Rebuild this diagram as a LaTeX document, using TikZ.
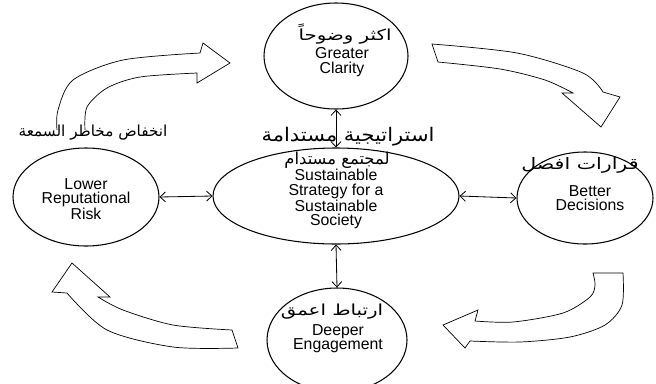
\documentclass[tikz,border=0pt]{standalone}
\usepackage{fontspec}
\setmainfont{Liberation Sans}
\newfontfamily\arabicfont[Script=Arabic]{DejaVu Sans}
\newfontfamily\arabicmid[Script=Arabic,FakeStretch=1.12]{DejaVu Sans}
\newfontfamily\arabicwide[Script=Arabic,FakeStretch=1.3]{DejaVu Sans}
\usetikzlibrary{arrows.meta,shapes.geometric}
\TeXXeTstate=1

\begin{document}
\begin{tikzpicture}[x=0.3mm,y=-0.3mm,
    bulle/.style={draw,ellipse,line width=0.9pt,inner sep=0pt},
    lien/.style={{Straight Barb[length=1.6mm,width=3mm]}-{Straight Barb[length=1.6mm,width=3mm]},line width=0.7pt},
    bloc/.style={line width=0.6pt,line join=miter},
    ar/.style={inner sep=0pt,font=\arabicfont\fontsize{13}{15}\selectfont},
    arw/.style={inner sep=0pt,font=\arabicwide\fontsize{13}{15}\selectfont},
    en/.style={align=center,inner sep=0pt,font=\fontsize{13.5}{12.2}\selectfont}]
    \useasboundingbox (0,0) rectangle (656,383);

    % Les cinq bulles
    \node[bulle,minimum width=43.2mm,minimum height=31.8mm] (clarity) at (336,56) {};
    \node[bulle,minimum width=73.8mm,minimum height=28.8mm] (strategy) at (336,196) {};
    \node[bulle,minimum width=43.8mm,minimum height=29.4mm] (risk) at (86,197) {};
    \node[bulle,minimum width=40.8mm,minimum height=27.6mm] (decisions) at (585,198) {};
    \node[bulle,minimum width=42mm,minimum height=31.2mm] (engagement) at (337,340) {};

    % Textes
    \node[arw] (clarityAr) at (345,34) {\beginR اكثر وضوحاً\endR};
    \node[en] (clarityEn) at (342,62) {Greater\\Clarity};
    \node[ar,font=\arabicmid\fontsize{16}{18}\selectfont] (strategyAr) at (348,137) {\beginR استراتيجية مستدامة\endR};
    \node[ar,font=\arabicfont\fontsize{14}{16}\selectfont] (strategyAr2) at (337,160) {\beginR لمجتمع مستدام\endR};
    \node[en] (strategyEn) at (336,199) {Sustainable\\Strategy for a\\Sustainable\\Society};
    \node[ar] (riskAr) at (93,133) {\beginR انخفاض مخاطر السمعة\endR};
    \node[en] (riskEn) at (86,199) {Lower\\Reputational\\Risk};
    \node[arw,font=\arabicwide\fontsize{13.5}{16}\selectfont] (decisionsAr) at (580,165) {\beginR قرارات افضل\endR};
    \node[en] (decisionsEn) at (590,198) {Better\\Decisions};
    \node[arw] (engagementAr) at (332,312) {\beginR ارتباط اعمق\endR};
    \node[en] (engagementEn) at (338,339) {Deeper\\Engagement};

    % Liens avec le centre
    \draw[lien] (strategy.north) -- (clarity.south);
    \draw[lien] (strategy.south) -- (engagement.north);
    \draw[lien] (risk.east) -- (strategy.west);
    \draw[lien] (strategy.east) -- (decisions.west);

    % Flèche en haut à gauche
    \draw[bloc] plot[smooth] coordinates {(57,130) (58,110) (73,80) (123,60) (200,53)}
        -- (203,43) -- (230,63) -- (197,83) -- (197,73)
        -- plot[smooth] coordinates {(197,73) (140,77) (107,88) (87,107) (85,130)};

    % Flèche en haut à droite
    \draw[bloc] plot[smooth] coordinates {(432,44) (517,53) (583,73) (603,92)}
        -- (620,97) -- (601,127) -- (562,93) -- (573,93)
        -- plot[smooth] coordinates {(573,93) (545,80) (500,69) (438,62)} -- cycle;

    % Flèche en bas à droite
    \draw[bloc] plot[smooth] coordinates {(623,273) (622,305) (605,325) (570,337) (520,342) (470,341)}
        -- (465,348) -- (443,325) -- (478,310) -- (475,321)
        -- plot[smooth] coordinates {(475,321) (513,322) (563,313) (590,297) (595,285) (593,273)} -- cycle;

    % Flèche en bas à gauche
    \draw[bloc] plot[smooth] coordinates {(238,348) (173,347) (107,330) (67,293)}
        -- (52,292) -- (72,263) -- (110,297) -- (98,297)
        -- plot[smooth] coordinates {(98,297) (123,310) (173,325) (232,330)} -- cycle;
\end{tikzpicture}
\end{document}
